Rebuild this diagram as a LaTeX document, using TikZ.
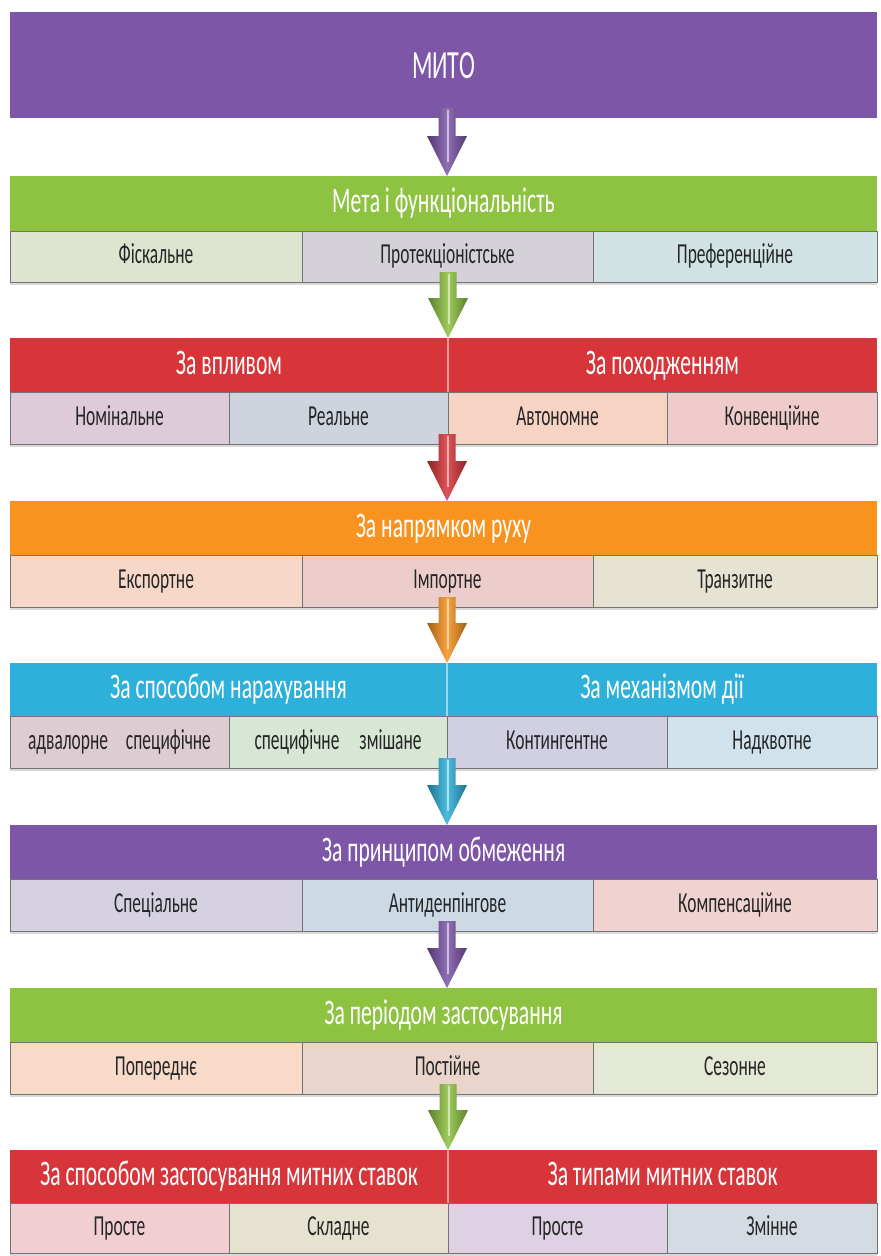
\documentclass[tikz,border=0pt]{standalone}
\usepackage{fontspec}
\setmainfont{Carlito}[FakeStretch=0.6]
\usetikzlibrary{calc,shadows}
\definecolor{cPurple}{HTML}{7D56A8}
\definecolor{cGreen}{HTML}{8EC241}
\definecolor{cRed}{HTML}{D8353A}
\definecolor{cOrange}{HTML}{F7931E}
\definecolor{cBlue}{HTML}{2DB0DA}
\definecolor{sA}{HTML}{DDE4D0}
\definecolor{sB}{HTML}{D4D2D8}
\definecolor{sC}{HTML}{D0E2E3}
\definecolor{sD}{HTML}{DDCBD9}
\definecolor{sE}{HTML}{CDD4DE}
\definecolor{sF}{HTML}{F7D3C3}
\definecolor{sG}{HTML}{EFCBCB}
\definecolor{sH}{HTML}{F6D7C8}
\definecolor{sI}{HTML}{EDCDCB}
\definecolor{sJ}{HTML}{E6E3D3}
\definecolor{sK}{HTML}{DDCCD2}
\definecolor{sL}{HTML}{D8E6D6}
\definecolor{sM}{HTML}{D1D0E3}
\definecolor{sN}{HTML}{D0E2EB}
\definecolor{sO}{HTML}{D6D1E1}
\definecolor{sP}{HTML}{CDDAE6}
\definecolor{sQ}{HTML}{F0D3D0}
\definecolor{sR}{HTML}{F7DAC8}
\definecolor{sS}{HTML}{E9D5CB}
\definecolor{sT}{HTML}{E3E9D4}
\definecolor{sU}{HTML}{F0CED2}
\definecolor{sV}{HTML}{E5E2D0}
\definecolor{sW}{HTML}{DED1E3}
\definecolor{sX}{HTML}{D4DBE3}
\tikzset{
  hdr/.style={anchor=north west, inner sep=0pt, outer sep=0pt, text=white,
    font=\fontsize{36}{36}\selectfont, minimum height=54pt,
    text height=24pt, text depth=6pt},
  subbox/.style={anchor=north west, inner sep=0pt, outer sep=0pt, draw=black!55,
    line width=0.8pt, text=black!85, font=\fontsize{29}{29}\selectfont,
    minimum height=52pt, text height=19pt, text depth=5pt,
    drop shadow={shadow xshift=0pt, shadow yshift=-2.5pt, opacity=0.3}},
  divider/.style={white, opacity=0.5, line width=1.2pt}
}
% #1 source anchor, #2 target anchor, #3 colour, #4 x shift
\newcommand\flowarrow[4]{%
  \path[left color=#3!65!black, right color=#3!65!black, middle color=#3!85!white]
    let \p1=(#1), \p2=($(#2)+(#4,0)$) in
    (\x2-8.5pt,\y1+10pt) -- (\x2+8.5pt,\y1+10pt) -- (\x2+8.5pt,\y2+40pt) --
    (\x2+20pt,\y2+40pt) -- (\x2,\y2) -- (\x2-20pt,\y2+40pt) --
    (\x2-8.5pt,\y2+40pt) -- cycle;
  \path[draw=white, opacity=0.55, line width=1.3pt]
    let \p1=(#1), \p2=($(#2)+(#4,0)$) in
    (\x2+1pt,\y1+8pt) -- (\x2+1pt,\y2+14pt);}
\begin{document}
\begin{tikzpicture}[x=1pt,y=-1pt]
\useasboundingbox (0,0) rectangle (881,1256);
% top
\node[hdr, fill=cPurple, minimum width=867pt, minimum height=106pt,
  font=\fontsize{40}{40}\selectfont, text height=27pt, text depth=0pt] (top) at (10,12) {МИТО};
% section 1
\node[hdr, fill=cGreen, minimum width=867pt, minimum height=55pt] (h1) at (10,176) {Мета і функціональність};
\node[subbox, fill=sA, minimum width=292pt, minimum height=51pt] (s1a) at (10,231) {Фіскальне};
\node[subbox, fill=sB, minimum width=291pt, minimum height=51pt] (s1b) at (302,231) {Протекціоністське};
\node[subbox, fill=sC, minimum width=284pt, minimum height=51pt] (s1c) at (593,231) {Преференційне};
% section 2
\node[hdr, fill=cRed, minimum width=438pt] (h2a) at (10,338) {За впливом};
\node[hdr, fill=cRed, minimum width=429pt] (h2b) at (448,338) {За походженням};
\draw[divider] (h2a.north east) -- (h2a.south east);
\node[subbox, fill=sD, minimum width=219pt] (s2a) at (10,392) {Номінальне};
\node[subbox, fill=sE, minimum width=219pt] (s2b) at (229,392) {Реальне};
\node[subbox, fill=sF, minimum width=219pt] (s2c) at (448,392) {Автономне};
\node[subbox, fill=sG, minimum width=210pt] (s2d) at (667,392) {Конвенційне};
% section 3
\node[hdr, fill=cOrange, minimum width=867pt] (h3) at (10,501) {За напрямком руху};
\node[subbox, fill=sH, minimum width=292pt] (s3a) at (10,555) {Експортне};
\node[subbox, fill=sI, minimum width=291pt] (s3b) at (302,555) {Імпортне};
\node[subbox, fill=sJ, minimum width=284pt] (s3c) at (593,555) {Транзитне};
% section 4
\node[hdr, fill=cBlue, minimum width=437pt, minimum height=53pt] (h4a) at (10,663) {За способом нарахування};
\node[hdr, fill=cBlue, minimum width=430pt, minimum height=53pt] (h4b) at (447,663) {За механізмом дії};
\draw[divider] (h4a.north east) -- (h4a.south east);
\node[subbox, fill=sK, minimum width=219pt] (s4a) at (10,716) {адвалорне\hspace{18pt}специфічне};
\node[subbox, fill=sL, minimum width=218pt] (s4b) at (229,716) {специфічне\hspace{20pt}змішане};
\node[subbox, fill=sM, minimum width=220pt] (s4c) at (447,716) {Контингентне};
\node[subbox, fill=sN, minimum width=210pt] (s4d) at (667,716) {Надквотне};
% section 5
\node[hdr, fill=cPurple, minimum width=867pt] (h5) at (10,825) {За принципом обмеження};
\node[subbox, fill=sO, minimum width=292pt] (s5a) at (10,879) {Спеціальне};
\node[subbox, fill=sP, minimum width=291pt] (s5b) at (302,879) {Антиденпінгове};
\node[subbox, fill=sQ, minimum width=284pt] (s5c) at (593,879) {Компенсаційне};
% section 6
\node[hdr, fill=cGreen, minimum width=867pt] (h6) at (10,988) {За періодом застосування};
\node[subbox, fill=sR, minimum width=292pt] (s6a) at (10,1042) {Попереднє};
\node[subbox, fill=sS, minimum width=291pt] (s6b) at (302,1042) {Постійне};
\node[subbox, fill=sT, minimum width=284pt] (s6c) at (593,1042) {Сезонне};
% section 7
\node[hdr, fill=cRed, minimum width=438pt, minimum height=53pt] (h7a) at (10,1150) {За способом застосування митних ставок};
\node[hdr, fill=cRed, minimum width=429pt, minimum height=53pt] (h7b) at (448,1150) {За типами митних ставок};
\draw[divider] (h7a.north east) -- (h7a.south east);
\node[subbox, fill=sU, minimum width=219pt, minimum height=50pt] (s7a) at (10,1203) {Просте};
\node[subbox, fill=sV, minimum width=219pt, minimum height=50pt] (s7b) at (229,1203) {Складне};
\node[subbox, fill=sW, minimum width=219pt, minimum height=50pt] (s7c) at (448,1203) {Просте};
\node[subbox, fill=sX, minimum width=210pt, minimum height=50pt] (s7d) at (667,1203) {Змінне};
% arrows
\flowarrow{top.south}{h1.north}{cPurple}{3.5}
\flowarrow{s1b.south}{h2a.north east}{cGreen}{0}
\flowarrow{s2b.south east}{h3.north}{cRed}{3.5}
\flowarrow{s3b.south}{h4a.north east}{cOrange}{0}
\flowarrow{s4b.south east}{h5.north}{cBlue}{3.5}
\flowarrow{s5b.south}{h6.north}{cPurple}{3.5}
\flowarrow{s6b.south}{h7a.north east}{cGreen}{0}
\end{tikzpicture}
\end{document}
